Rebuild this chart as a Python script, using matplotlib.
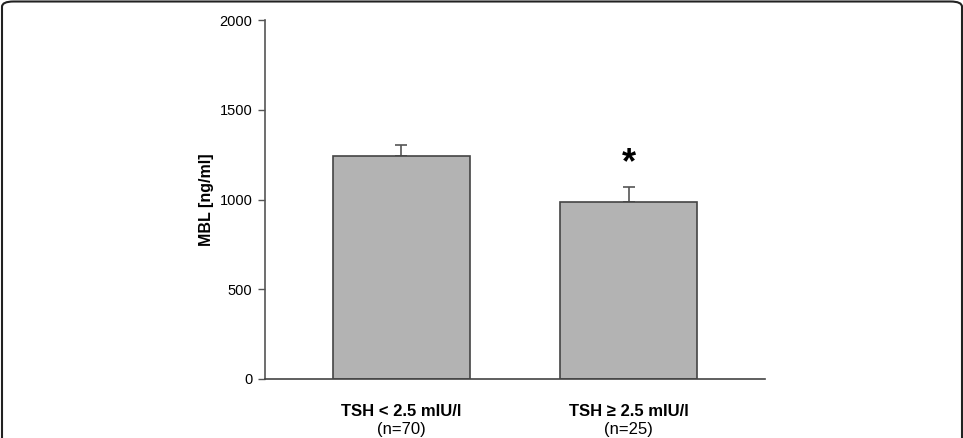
import numpy as np
import matplotlib.pyplot as plt
from matplotlib.patches import FancyBboxPatch

# 数据
groups = ['TSH < 2.5 mIU/l', 'TSH \u2265 2.5 mIU/l']
n_labels = ['(n=70)', '(n=25)']
mbl_mean = [1242, 986]
mbl_err = [62, 84]
signif = ['', '*']

plt.rcParams['font.family'] = ['Liberation Sans', 'DejaVu Sans']

W, H = 963, 438
fig = plt.figure(figsize=(W / 100, H / 100), dpi=100)

# 外框(圆角), 底边在图外
frame = FancyBboxPatch((2 / W, -0.3), 960 / W, 1.3 - 1.5 / H,
                       boxstyle='round,pad=0,rounding_size=0.012',
                       transform=fig.transFigure, fill=False, ec='#222222', lw=1.5)
fig.patches.append(frame)

ax = fig.add_axes([265 / W, (H - 379) / H, 500 / W, 359 / H])
x = np.arange(len(groups))
ax.bar(x, mbl_mean, width=0.6, color='#b3b3b3', edgecolor='#444444', linewidth=1.2, zorder=2)
ax.errorbar(x, mbl_mean, yerr=[np.zeros(len(x)), mbl_err], fmt='none', ecolor='#555555',
            elinewidth=1.2, capsize=4, capthick=1.2, zorder=1)

for xi, m, e, s in zip(x, mbl_mean, mbl_err, signif):
    if s:
        ax.annotate(s, (xi, m + e), xytext=(0, 4), textcoords='offset points',
                    ha='center', va='bottom', fontsize=26, fontweight='bold')

ax.set_xlim(-0.6, 1.6)
ax.set_ylim(0, 2000)
ax.set_yticks([0, 500, 1000, 1500, 2000])
ax.set_xticks([])
ax.tick_params(axis='y', direction='out', length=5, width=1, color='#555555', labelsize=10.5, pad=4)
for side in ['top', 'right']:
    ax.spines[side].set_visible(False)
ax.spines['left'].set_color('#555555')
ax.spines['bottom'].set_color('#444444')
ax.spines['left'].set_linewidth(1.2)
ax.spines['bottom'].set_linewidth(1.2)

ax.set_ylabel('MBL [ng/ml]', fontsize=11.5, fontweight='bold', labelpad=4)

trans = ax.get_xaxis_transform()
for xi, g, n in zip(x, groups, n_labels):
    ax.text(xi, -0.09, g, transform=trans, ha='center', va='center', fontsize=12, fontweight='bold')
    ax.text(xi, -0.14, n, transform=trans, ha='center', va='center', fontsize=12)

fig.savefig('out.png', dpi=100)
